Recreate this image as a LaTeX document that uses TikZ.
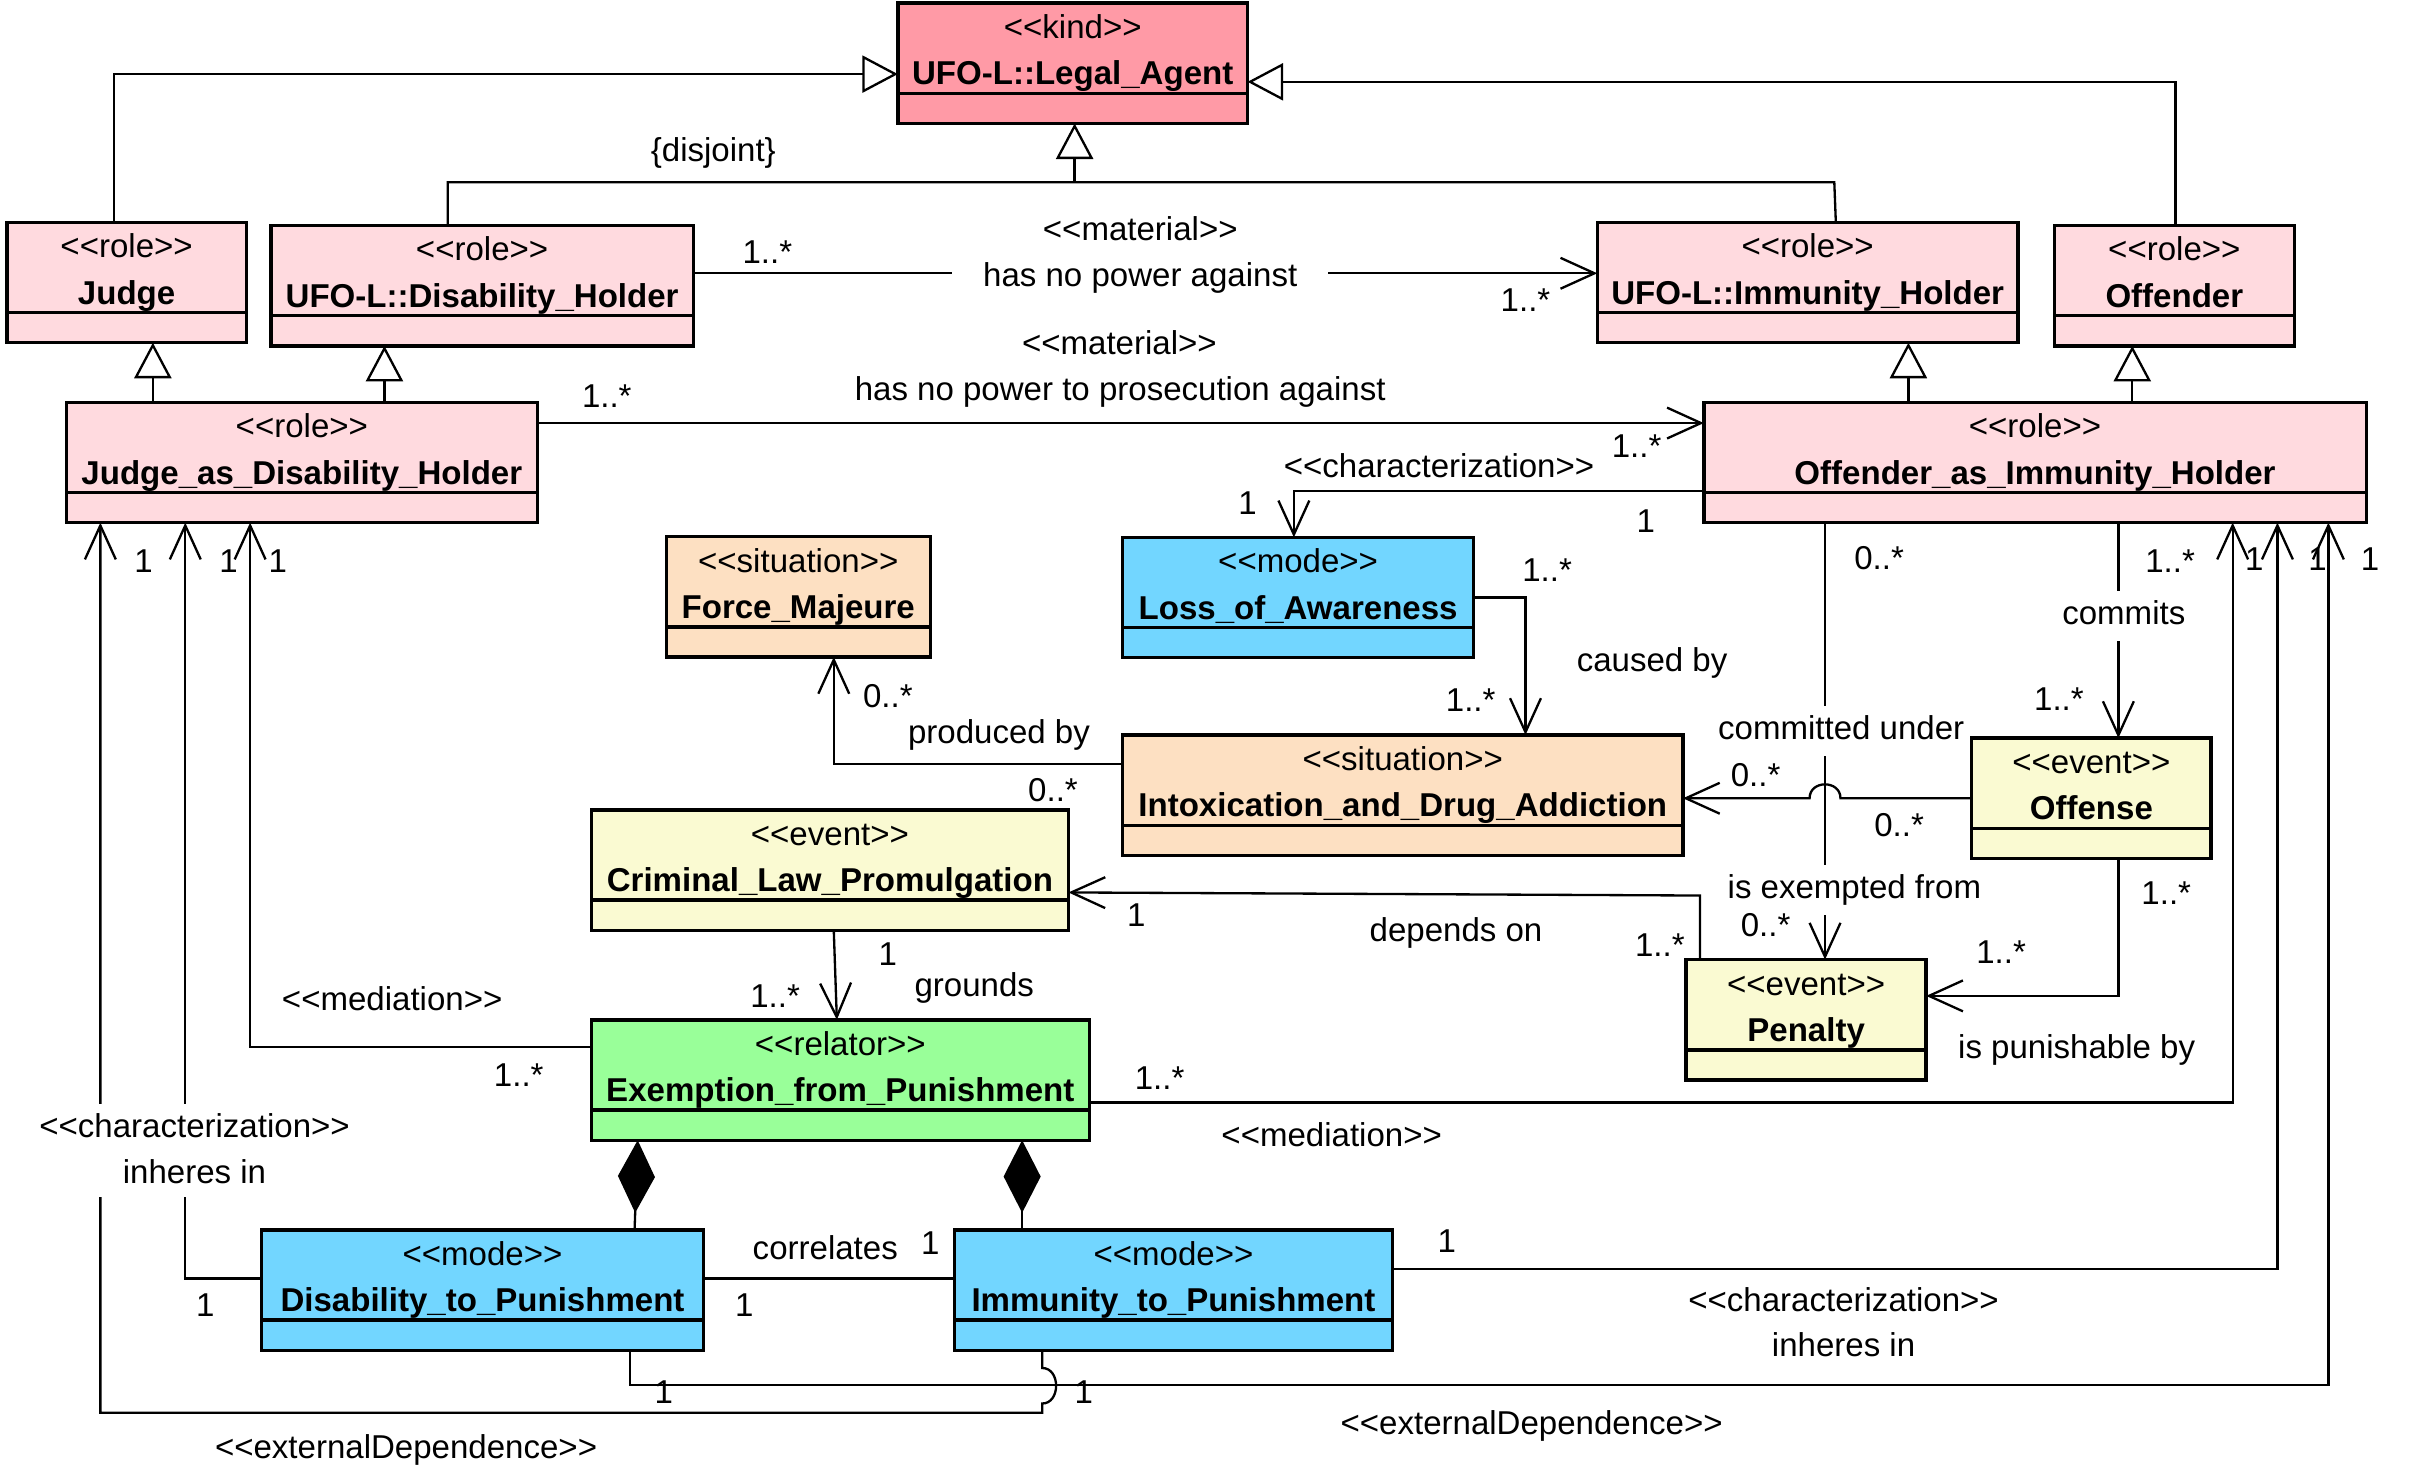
\documentclass[tikz,border=0pt]{standalone}
\usepackage{fontspec}
\setmainfont{Liberation Sans}
\usetikzlibrary{arrows.meta}
\definecolor{kindc}{HTML}{FF9AA6}
\definecolor{rolec}{HTML}{FFDADF}
\definecolor{sitc}{HTML}{FDE0C2}
\definecolor{modec}{HTML}{72D6FF}
\definecolor{evc}{HTML}{FAFAD2}
\definecolor{relc}{HTML}{99FF99}
\newcommand\stt[1]{<\kern0pt<#1>\kern0pt>}
\newcommand\umlbox[8]{%
  \node[boxst, fill=#6, anchor=north west, minimum width={(#4-#2)*1pt}, minimum height={(#5-#3)*1pt}] (#1) at (#2,#3) {};
  \draw[line width=2.2pt] ([yshift=-58.5pt]#1.north west) -- ([yshift=-58.5pt]#1.north east);
  \node[anchor=base] (#1-s) at ([yshift=-23pt]#1.north) {\stt{#7}};
  \node[anchor=base, font=\fontsize{21.4}{25}\selectfont\bfseries] (#1-n) at ([yshift=-53pt]#1.north) {#8};
}
\begin{document}
\begin{tikzpicture}[x=1pt,y=-1pt,
  every node/.style={font=\fontsize{21.4}{25}\selectfont, inner sep=0pt},
  boxst/.style={draw, line width=2.2pt, inner sep=0pt, outer sep=0pt},
  conn/.style={line width=1.5pt},
  assoc/.style={conn, -{Straight Barb[length=22pt,width=20pt]}},
  gen/.style={conn, -{Triangle[length=23pt,width=24pt,fill=white]}},
  comp/.style={conn, {Diamond[length=47pt,width=24pt]}-},
  lab/.style={anchor=base, text height=15.5pt, text depth=4.5pt},
  wlab/.style={lab, fill=white, inner xsep=4pt, inner ysep=6pt}]
\fill[white] (0,0) rectangle (1568,958);
\useasboundingbox (0,0) rectangle (1568,958);

% ---------- classes ----------
\umlbox{LA}{581.5}{2}{808}{80}{kindc}{kind}{UFO-L::Legal\_Agent}
\umlbox{Jd}{4.5}{144}{159.5}{222}{rolec}{role}{Judge}
\umlbox{DH}{175.5}{146}{449}{224}{rolec}{role}{UFO-L::Disability\_Holder}
\umlbox{IH}{1034.5}{144}{1307}{222}{rolec}{role}{UFO-L::Immunity\_Holder}
\umlbox{Of}{1330.5}{146}{1486}{224}{rolec}{role}{Offender}
\umlbox{JaDH}{43}{260.5}{348}{338.5}{rolec}{role}{Judge\_as\_Disability\_Holder}
\umlbox{OaIH}{1103.5}{260.5}{1532.5}{338.5}{rolec}{role}{Offender\_as\_Immunity\_Holder}
\umlbox{FM}{431.5}{347.5}{602.5}{425.5}{sitc}{situation}{Force\_Majeure}
\umlbox{LoA}{727}{348}{954.5}{426}{modec}{mode}{Loss\_of\_Awareness}
\umlbox{Ix}{727}{476}{1090}{554}{sitc}{situation}{Intoxication\_and\_Drug\_Addiction}
\umlbox{Os}{1277}{478}{1432}{556}{evc}{event}{Offense}
\umlbox{CLP}{383}{524.5}{692}{602.5}{evc}{event}{Criminal\_Law\_Promulgation}
\umlbox{Pe}{1092}{621.5}{1247.5}{699.5}{evc}{event}{Penalty}
\umlbox{Ex}{383}{660.5}{705.5}{738.5}{relc}{relator}{Exemption\_from\_Punishment}
\umlbox{DtP}{169.5}{796.5}{455.5}{874.5}{modec}{mode}{Disability\_to\_Punishment}
\umlbox{ItP}{618}{796.5}{902}{874.5}{modec}{mode}{Immunity\_to\_Punishment}

% ---------- generalizations ----------
\draw[gen] (74,0 |- Jd.north) |- (LA.west |- 0,48);
\draw[gen] (1409,0 |- Of.north) |- (LA.east |- 0,53);
\draw[conn] (290,0 |- DH.north) -- (290,118) -- (1188,118) -- (1189,0 |- IH.north);
\draw[gen] (696,118) -- (696,0 |- LA.south);
\draw[gen] (99,0 |- JaDH.north) -- (99,0 |- Jd.south);
\draw[gen] (249,0 |- JaDH.north) -- (249,0 |- DH.south);
\draw[gen] (1236,0 |- OaIH.north) -- (1236,0 |- IH.south);
\draw[gen] (1381,0 |- OaIH.north) -- (1381,0 |- Of.south);

% ---------- associations ----------
\draw[assoc] (DH.east |- 0,177) -- (IH.west |- 0,177);
\draw[assoc] (JaDH.east |- 0,274) -- (OaIH.west |- 0,274);
\draw[assoc] (OaIH.west |- 0,318) -| (838,0 |- LoA.north);
\draw[assoc] (LoA.east |- 0,387) -| (988,0 |- Ix.north);
\draw[assoc] (Ix.west |- 0,495) -| (540,0 |- FM.south);
\draw[assoc] (Os.west |- 0,517) -- (1192,517) .. controls (1192,505) and (1172,505) .. (1172,517) -- (Ix.east |- 0,517);
\draw[assoc] (1182,0 |- OaIH.south) -- (1182,0 |- Pe.north);
\draw[assoc] (1372,0 |- OaIH.south) -- (1372,0 |- Os.north);
\draw[assoc] (1372,0 |- Os.south) |- (Pe.east |- 0,645);
\draw[assoc] (1101,0 |- Pe.north) -- (1101,580) -- (CLP.east |- 0,578);
\draw[assoc] (540,0 |- CLP.south) -- (542,0 |- Ex.north);
\draw[assoc] (Ex.west |- 0,678) -| (162,0 |- JaDH.south);
\draw[assoc] (Ex.east |- 0,714) -| (1446,0 |- OaIH.south);
\draw[assoc] (DtP.west |- 0,828) -| (120,0 |- JaDH.south);
\draw[assoc] (ItP.east |- 0,822) -| (1475,0 |- OaIH.south);
\draw[comp] (413,0 |- Ex.south) -- (411,0 |- DtP.north);
\draw[comp] (662,0 |- Ex.south) -- (662,0 |- ItP.north);
\draw[conn] (DtP.east |- 0,828) -- (ItP.west |- 0,828);
\draw[assoc] (408,0 |- DtP.south) |- (1508,897) -- (1508,0 |- OaIH.south);
\draw[assoc] (675,0 |- ItP.south) -- (675,886) .. controls (687,886) and (687,909) .. (675,909) -- (675,915) -| (65,0 |- JaDH.south);

% ---------- labels ----------
\node[lab] (t1) at (462,104.5) {\{disjoint\}};
\node[lab] (t2) at (497,170.5) {1..*};
\node[lab] (t3) at (738.5,155.5) {\stt{material}};
\node[wlab, inner xsep=20pt] (t4) at (738.5,185.5) {has no power against};
\node[lab] (t5) at (988,202) {1..*};
\node[lab] (t6) at (725,229.5) {\stt{material}};
\node[lab] (t7) at (725.5,259.5) {has no power to prosecution against};
\node[lab] (t8) at (393,264) {1..*};
\node[lab] (t9) at (1060,296.5) {1..*};
\node[lab] (t10) at (932,309) {\stt{characterization}};
\node[lab] (t11) at (808,333.5) {1};
\node[lab] (t12) at (1066,345) {1};
\node[lab] (t13) at (93,371) {1};
\node[lab] (t14) at (148,371) {1};
\node[lab] (t15) at (180,371) {1};
\node[lab] (t16) at (575,458.5) {0..*};
\node[lab] (t17) at (647,481.5) {produced by};
\node[lab] (t18) at (682,519) {0..*};
\node[lab] (t19) at (1002,376.5) {1..*};
\node[lab] (t20) at (1070,435) {caused by};
\node[lab] (t21) at (952.5,461) {1..*};
\node[lab] (t22) at (1217,369) {0..*};
\node[lab] (t23) at (1405.5,371) {1..*};
\node[wlab] (t24) at (1375.5,404.5) {commits};
\node[lab] (t25) at (1333.5,460) {1..*};
\node[wlab] (t26) at (1192.5,479) {committed under};
\node[lab] (t27) at (1137,509.5) {0..*};
\node[lab] (t28) at (1230,542) {0..*};
\node[wlab] (t29) at (1201,582) {is exempted from};
\node[lab] (t30) at (1143.5,606.5) {0..*};
\node[lab] (t31) at (1075,619.5) {1..*};
\node[lab] (t32) at (943,610) {depends on};
\node[lab] (t33) at (736,600) {1};
\node[lab] (t34) at (1403,586) {1..*};
\node[lab] (t35) at (1296,624) {1..*};
\node[lab] (t36) at (1345,685.5) {is punishable by};
\node[lab] (t37) at (575,625) {1};
\node[lab] (t38) at (631,645.5) {grounds};
\node[lab] (t39) at (502,652.5) {1..*};
\node[lab] (t40) at (254,654.5) {\stt{mediation}};
\node[lab] (t41) at (336,703.5) {1..*};
\node[lab] (t42) at (751,705.5) {1..*};
\node[lab] (t43) at (862.5,742.5) {\stt{mediation}};
\node[wlab, minimum width=210pt] (t44) at (126,736.5) {\stt{characterization}};
\node[wlab, minimum width=210pt, inner ysep=4pt] (t45) at (126,766.5) {inheres in};
\node[lab] (t46) at (534.5,816) {correlates};
\node[lab] (t47) at (602.5,812.5) {1};
\node[lab] (t48) at (133,852.5) {1};
\node[lab] (t49) at (482,852.5) {1};
\node[lab] (t50) at (937,811.5) {1};
\node[lab] (t51) at (1194,849.5) {\stt{characterization}};
\node[lab] (t52) at (1194,878.5) {inheres in};
\node[lab] (t53) at (430,909) {1};
\node[lab] (t54) at (702,909) {1};
\node[lab] (t55) at (263,944.5) {\stt{externalDependence}};
\node[lab] (t56) at (992,929) {\stt{externalDependence}};
\node[lab] (t57) at (1460,369.5) {1};
\node[lab] (t58) at (1501,369.5) {1};
\node[lab] (t59) at (1535,369.5) {1};
\end{tikzpicture}
\end{document}
